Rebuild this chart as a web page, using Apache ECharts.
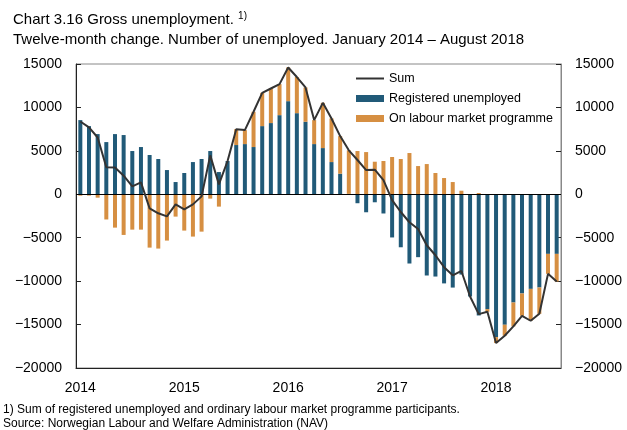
<!DOCTYPE html>
<html>
<head>
<meta charset="utf-8">
<script src="https://cdn.jsdelivr.net/npm/echarts@6/dist/echarts.min.js"></script>
<style>
  html, body { margin: 0; padding: 0; background: #fff; }
  #box { width: 627px; height: 430px; }
</style>
</head>
<body>
<div id="box"></div>
<script>
// months Jan 2014 - Aug 2018
var months = [];
for (var y = 2014; y <= 2018; y++) {
  for (var m = 1; m <= 12; m++) {
    if (y === 2018 && m > 8) break;
    months.push(y + '-' + (m < 10 ? '0' + m : m));
  }
}

// twelve-month change, registered unemployed
var registered = [
  8540, 7850, 6930, 6010, 6930, 6820, 4980, 5440, 4520, 4060, 2790, 1410,
  2450, 3710, 4060, 4980, 2560, 3830, 5670, 5780, 5440, 7850, 8200, 9110,
  10720, 9340, 8350, 5780, 5320, 3710, 2370, 50, -1030, -2070, -920, -2210,
  -4970, -6100, -7970, -7240, -9350, -9470, -10260, -10740, -9240, -11770, -13950, -13220,
  -16440, -15020, -12460, -11420, -10890, -10730, -6860, -6860
];

// twelve-month change, on labour market programme
var programme = [
  -160, -150, -390, -2900, -3840, -4680, -4070, -4070, -6140, -6250, -5330, -2570,
  -4180, -4870, -4300, -500, -1420, 0, 1830, 1610, 4060, 3830, 3980, 3570,
  3880, 4160, 3950, 2760, 5210, 5020, 4330, 5010, 4980, 4860, 3750, 3830,
  4290, 4060, 4750, 3250, 3480, 2450, 1870, 1410, 410, 0, 150, -310,
  -690, -1270, -2750, -2570, -3670, -3030, -2300, -3180
];

// sum line
var total = [
  8380, 7700, 6540, 3110, 3090, 2140, 910, 1370, -1620, -2190, -2540, -1160,
  -1730, -1160, -240, 4480, 1140, 3830, 7500, 7390, 9500, 11680, 12180, 12680,
  14600, 13500, 12300, 8540, 10530, 8730, 6700, 5060, 3950, 2790, 2830, 1620,
  -680, -2040, -3220, -3990, -5870, -7020, -8390, -9330, -8830, -11770, -13800, -13530,
  -17130, -16290, -15210, -13990, -14560, -13760, -9160, -10040
];

var FONT = 'Liberation Sans, Arial, sans-serif';

var myChart = echarts.init(document.getElementById('box'));

function minusFmt(v) {
  return String(v).replace('-', '\u2212');
}

var option = {
  animation: false,
  textStyle: { fontFamily: FONT },
  title: {
    left: 8,
    top: 6,
    text: 'Chart 3.16 Gross unemployment. {sup|1)}',
    subtext: 'Twelve-month change. Number of unemployed. January 2014 \u2013 August 2018',
    itemGap: 5,
    textStyle: {
      fontFamily: FONT, fontSize: 15, fontWeight: 'normal', color: '#000',
      rich: { sup: { fontSize: 10, verticalAlign: 'top', padding: [0, 0, 8, 0], fontFamily: FONT, color: '#000' } }
    },
    subtextStyle: { fontFamily: FONT, fontSize: 15, color: '#000' }
  },
  legend: {
    orient: 'vertical',
    left: 350,
    top: 67,
    itemWidth: 28,
    itemHeight: 7,
    itemGap: 7,
    textStyle: { fontFamily: FONT, fontSize: 12.5, color: '#000' },
    data: [
      { name: 'Sum', itemStyle: { opacity: 0 } },
      { name: 'Registered unemployed', icon: 'rect' },
      { name: 'On labour market programme', icon: 'rect' }
    ]
  },
  grid: {
    left: 76, right: 66, top: 64, bottom: 62,
    show: true, borderColor: '#888', borderWidth: 1
  },
  xAxis: {
    type: 'category',
    data: months,
    axisLine: { onZero: false, lineStyle: { color: '#222', width: 1 } },
    axisTick: {
      inside: true, length: 5, alignWithLabel: true,
      interval: function (i) { return i % 12 === 0; },
      lineStyle: { color: '#222' }
    },
    axisLabel: {
      interval: function (i) { return i % 12 === 0; },
      formatter: function (v) { return v.slice(0, 4); },
      fontFamily: FONT, fontSize: 14, color: '#000', margin: 13
    },
    splitLine: { show: false }
  },
  yAxis: [
    {
      type: 'value', min: -20000, max: 15000, interval: 5000,
      axisLine: { show: true, lineStyle: { color: '#222' } },
      axisTick: { show: true, inside: true, length: 5, lineStyle: { color: '#222' } },
      axisLabel: { formatter: minusFmt, fontFamily: FONT, fontSize: 14, color: '#000', margin: 14 },
      splitLine: { show: false }
    },
    {
      type: 'value', min: -20000, max: 15000, interval: 5000, position: 'right',
      axisLine: { show: true, lineStyle: { color: '#888' } },
      axisTick: { show: true, inside: true, length: 5, lineStyle: { color: '#222' } },
      axisLabel: { formatter: minusFmt, fontFamily: FONT, fontSize: 14, color: '#000', margin: 14 },
      splitLine: { show: false }
    }
  ],
  series: [
    {
      name: 'Registered unemployed',
      type: 'bar',
      stack: 'u',
      barWidth: 4,
      itemStyle: { color: '#215a78' },
      data: registered,
      markLine: {
        silent: true,
        symbol: 'none',
        label: { show: false },
        lineStyle: { color: '#000', type: 'solid', width: 1 },
        data: [{ yAxis: 0 }]
      }
    },
    {
      name: 'On labour market programme',
      type: 'bar',
      stack: 'u',
      barWidth: 4,
      itemStyle: { color: '#d68f42' },
      data: programme
    },
    {
      name: 'Sum',
      type: 'line',
      symbol: 'none',
      z: 5,
      lineStyle: { color: '#333', width: 2 },
      itemStyle: { color: '#333' },
      data: total
    }
  ],
  graphic: [
    {
      type: 'text', left: 3, top: 404,
      style: { text: '1) Sum of registered unemployed and ordinary labour market programme participants.', font: '12px ' + FONT, fill: '#000' }
    },
    {
      type: 'text', left: 3, top: 418,
      style: { text: 'Source: Norwegian Labour and Welfare Administration (NAV)', font: '12px ' + FONT, fill: '#000' }
    }
  ]
};

myChart.setOption(option);
</script>
</body>
</html>
